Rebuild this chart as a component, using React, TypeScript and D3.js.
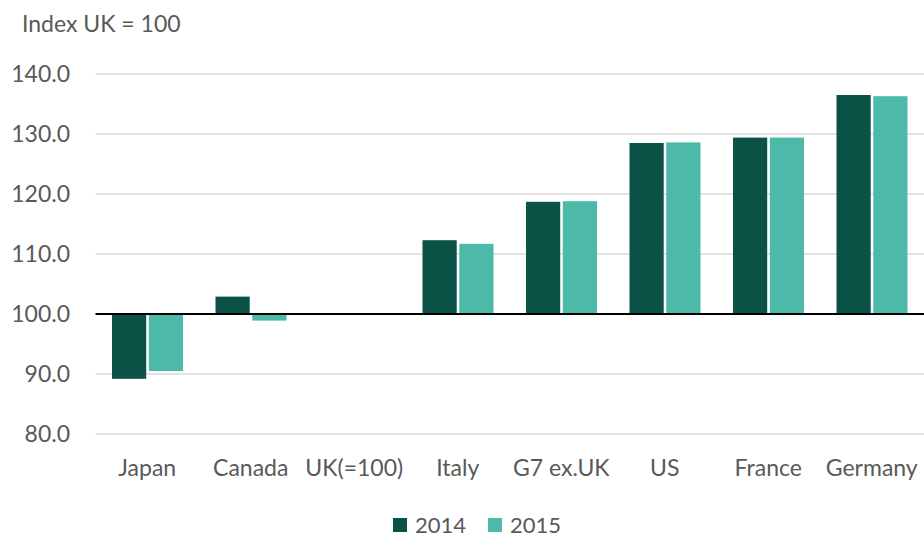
import { useEffect, useRef } from 'react';
import * as d3 from 'd3';

const categories = ['Japan', 'Canada', 'UK(=100)', 'Italy', 'G7 ex.UK', 'US', 'France', 'Germany'];
const series = ['2014', '2015'];
const values2014 = [89.2, 102.9, 100, 112.3, 118.7, 128.5, 129.4, 136.5];
const values2015 = [90.5, 98.9, 100, 111.7, 118.8, 128.6, 129.4, 136.3];
const yTicks = [80, 90, 100, 110, 120, 130, 140];
const colors = ['#0b5246', '#4db9a8'];

export default function App() {
  const svgRef = useRef<SVGSVGElement>(null);

  useEffect(() => {
    if (!svgRef.current) return;
    const svg = d3.select(svgRef.current);
    svg.selectAll('*').remove();

    const width = 924;
    const height = 537;
    const font = 'Lato, "Open Sans", sans-serif';
    const textColor = '#595959';

    const x = d3.scaleBand<string>().domain(categories).range([95.5, 923.5]).paddingInner(0).paddingOuter(0);
    const xs = d3.scaleBand<string>().domain(series).range([16.5, 16.5 + 71]).paddingInner(0.07);
    const y = d3.scaleLinear().domain([80, 140]).range([434, 74]);

    // gridlines
    svg.append('g')
      .selectAll('line')
      .data(yTicks.filter((t) => t !== 100))
      .join('line')
      .attr('x1', 95.5)
      .attr('x2', 924)
      .attr('y1', (d) => y(d))
      .attr('y2', (d) => y(d))
      .attr('stroke', '#d9d9d9')
      .attr('stroke-width', 1.5);

    // y labels
    svg.append('g')
      .selectAll('text')
      .data(yTicks)
      .join('text')
      .attr('x', 70)
      .attr('y', (d) => y(d))
      .attr('dy', '0.36em')
      .attr('text-anchor', 'end')
      .attr('fill', textColor)
      .attr('font-family', font)
      .attr('font-size', 23)
      .text((d) => d.toFixed(1));

    // bars
    const data = [values2014, values2015];
    data.forEach((vals, si) => {
      svg.append('g')
        .selectAll('rect')
        .data(vals)
        .join('rect')
        .attr('x', (_, i) => (x(categories[i]) ?? 0) + (xs(series[si]) ?? 0))
        .attr('width', xs.bandwidth())
        .attr('y', (d) => Math.min(y(d), y(100)))
        .attr('height', (d) => Math.abs(y(d) - y(100)))
        .attr('fill', colors[si]);
    });

    // baseline at 100
    svg.append('line')
      .attr('x1', 95.5)
      .attr('x2', 924)
      .attr('y1', y(100))
      .attr('y2', y(100))
      .attr('stroke', '#000')
      .attr('stroke-width', 2);

    // category labels
    svg.append('g')
      .selectAll('text')
      .data(categories)
      .join('text')
      .attr('x', (d) => (x(d) ?? 0) + x.bandwidth() / 2)
      .attr('y', 476)
      .attr('text-anchor', 'middle')
      .attr('fill', textColor)
      .attr('font-family', font)
      .attr('font-size', 23)
      .text((d) => d);

    // axis title
    svg.append('text')
      .attr('x', 22)
      .attr('y', 32)
      .attr('fill', textColor)
      .attr('font-family', font)
      .attr('font-size', 23)
      .text('Index UK = 100');

    // legend
    const legendX = [393, 488];
    series.forEach((s, i) => {
      const lg = svg.append('g').attr('transform', `translate(${legendX[i]},518)`);
      lg.append('rect').attr('width', 14).attr('height', 14).attr('fill', colors[i]);
      lg.append('text')
        .attr('x', 22)
        .attr('y', 7)
        .attr('dy', '0.36em')
        .attr('fill', textColor)
        .attr('font-family', font)
        .attr('font-size', 22)
        .text(s);
    });

    svg.attr('width', width).attr('height', height);
  }, []);

  return <svg ref={svgRef} style={{ position: 'absolute', left: 0, top: 0 }} />;
}
